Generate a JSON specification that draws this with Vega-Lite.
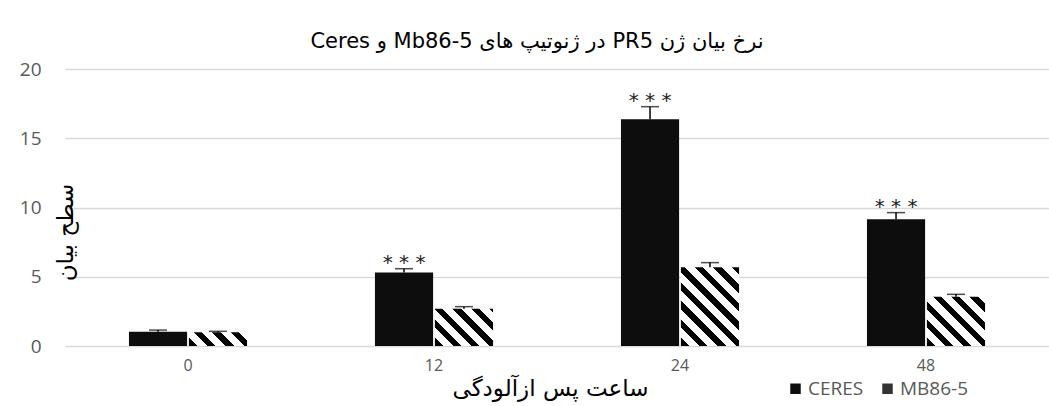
{
  "$schema": "https://vega.github.io/schema/vega-lite/v6.json",
  "width": 984,
  "height": 277,
  "autosize": "none",
  "padding": {"left": 65, "top": 69, "right": 0, "bottom": 60},
  "background": "white",
  "config": {"view": {"stroke": null}},
  "title": {
    "text": "\u202bنرخ بیان ژن PR5 در ژنوتیپ های Mb86-5 و Ceres\u202c",
    "font": "DejaVu Sans",
    "fontSize": 21,
    "fontWeight": "normal",
    "color": "black",
    "anchor": "middle",
    "offset": 8,
    "dx": -20
  },
  "data": {
    "values": [
      {"time": "0", "genotype": "CERES", "value": 1.03, "upper": 1.15, "sig": ""},
      {"time": "0", "genotype": "MB86-5", "value": 1.0, "upper": 1.06, "sig": ""},
      {"time": "12", "genotype": "CERES", "value": 5.3, "upper": 5.58, "sig": "* * *"},
      {"time": "12", "genotype": "MB86-5", "value": 2.69, "upper": 2.84, "sig": ""},
      {"time": "24", "genotype": "CERES", "value": 16.37, "upper": 17.28, "sig": "* * *"},
      {"time": "24", "genotype": "MB86-5", "value": 5.68, "upper": 6.02, "sig": ""},
      {"time": "48", "genotype": "CERES", "value": 9.15, "upper": 9.63, "sig": "* * *"},
      {"time": "48", "genotype": "MB86-5", "value": 3.56, "upper": 3.73, "sig": ""}
    ]
  },
  "encoding": {
    "x": {
      "field": "time",
      "type": "ordinal",
      "sort": ["0", "12", "24", "48"],
      "scale": {"paddingInner": 0.52, "paddingOuter": 0.26},
      "title": "ساعت پس ازآلودگی",
      "axis": {
        "labelAngle": 0,
        "labelPadding": 11,
        "labelFont": "Open Sans",
        "labelFontSize": 16,
        "labelColor": "#595959",
        "ticks": false,
        "domain": false,
        "grid": false,
        "titleFont": "DejaVu Sans",
        "titleFontSize": 23,
        "titleFontWeight": "normal",
        "titleColor": "black",
        "titleBaseline": "alphabetic",
        "titleY": 49,
        "titleX": 485
      }
    },
    "xOffset": {
      "field": "genotype",
      "type": "nominal",
      "sort": ["CERES", "MB86-5"],
      "scale": {"paddingInner": 0.03}
    }
  },
  "layer": [
    {
      "mark": {"type": "bar", "strokeWidth": 0},
      "encoding": {
        "y": {
          "field": "value",
          "type": "quantitative",
          "scale": {"domain": [0, 20]},
          "title": "سطح بیان",
          "axis": {
            "values": [0, 5, 10, 15, 20],
            "grid": true,
            "gridColor": "#d9d9d9",
            "gridWidth": 1.5,
            "domain": false,
            "ticks": false,
            "labelPadding": 24,
            "labelFont": "Open Sans",
            "labelFontSize": 19,
            "labelColor": "#595959",
            "titleFont": "DejaVu Sans",
            "titleFontSize": 23,
            "titleFontWeight": "normal",
            "titleColor": "black",
            "titleAngle": -90,
            "titleBaseline": "bottom",
            "titleX": 12,
            "titleY": 163
          }
        },
        "fill": {
          "field": "genotype",
          "type": "nominal",
          "scale": {"domain": ["CERES", "MB86-5"], "range": ["#0d0d0d", "#333333"]},
          "condition": [
            {
              "test": "datum.genotype === 'MB86-5' && datum.time === '0'",
              "value": {
                "gradient": "linear",
                "x1": 0, "y1": 1, "x2": 1.172, "y2": 0.7207,
                "stops": [
                  {"offset": 0, "color": "black"},
                  {"offset": 0.1154, "color": "black"},
                  {"offset": 0.1154, "color": "white"},
                  {"offset": 0.2564, "color": "white"},
                  {"offset": 0.2564, "color": "black"},
                  {"offset": 0.3718, "color": "black"},
                  {"offset": 0.3718, "color": "white"},
                  {"offset": 0.5128, "color": "white"},
                  {"offset": 0.5128, "color": "black"},
                  {"offset": 0.6282, "color": "black"},
                  {"offset": 0.6282, "color": "white"},
                  {"offset": 0.7692, "color": "white"},
                  {"offset": 0.7692, "color": "black"},
                  {"offset": 0.8846, "color": "black"},
                  {"offset": 0.8846, "color": "white"},
                  {"offset": 1, "color": "white"}
                ]
              }
            },
            {
              "test": "datum.genotype === 'MB86-5' && datum.time === '12'",
              "value": {
                "gradient": "linear",
                "x1": 0, "y1": 1, "x2": 1.1627, "y2": 0.2536,
                "stops": [
                  {"offset": 0, "color": "black"},
                  {"offset": 0.0865, "color": "black"},
                  {"offset": 0.0865, "color": "white"},
                  {"offset": 0.1923, "color": "white"},
                  {"offset": 0.1923, "color": "black"},
                  {"offset": 0.2788, "color": "black"},
                  {"offset": 0.2788, "color": "white"},
                  {"offset": 0.3846, "color": "white"},
                  {"offset": 0.3846, "color": "black"},
                  {"offset": 0.4711, "color": "black"},
                  {"offset": 0.4711, "color": "white"},
                  {"offset": 0.5769, "color": "white"},
                  {"offset": 0.5769, "color": "black"},
                  {"offset": 0.6634, "color": "black"},
                  {"offset": 0.6634, "color": "white"},
                  {"offset": 0.7692, "color": "white"},
                  {"offset": 0.7692, "color": "black"},
                  {"offset": 0.8557, "color": "black"},
                  {"offset": 0.8557, "color": "white"},
                  {"offset": 0.9615, "color": "white"},
                  {"offset": 0.9615, "color": "black"},
                  {"offset": 1, "color": "black"}
                ]
              }
            },
            {
              "test": "datum.genotype === 'MB86-5' && datum.time === '24'",
              "value": {
                "gradient": "linear",
                "x1": 0, "y1": 1, "x2": 0.8305, "y2": -0.125,
                "stops": [
                  {"offset": 0, "color": "black"},
                  {"offset": 0.0608, "color": "black"},
                  {"offset": 0.0608, "color": "white"},
                  {"offset": 0.1351, "color": "white"},
                  {"offset": 0.1351, "color": "black"},
                  {"offset": 0.1959, "color": "black"},
                  {"offset": 0.1959, "color": "white"},
                  {"offset": 0.2703, "color": "white"},
                  {"offset": 0.2703, "color": "black"},
                  {"offset": 0.3311, "color": "black"},
                  {"offset": 0.3311, "color": "white"},
                  {"offset": 0.4054, "color": "white"},
                  {"offset": 0.4054, "color": "black"},
                  {"offset": 0.4662, "color": "black"},
                  {"offset": 0.4662, "color": "white"},
                  {"offset": 0.5405, "color": "white"},
                  {"offset": 0.5405, "color": "black"},
                  {"offset": 0.6014, "color": "black"},
                  {"offset": 0.6014, "color": "white"},
                  {"offset": 0.6757, "color": "white"},
                  {"offset": 0.6757, "color": "black"},
                  {"offset": 0.7365, "color": "black"},
                  {"offset": 0.7365, "color": "white"},
                  {"offset": 0.8108, "color": "white"},
                  {"offset": 0.8108, "color": "black"},
                  {"offset": 0.8716, "color": "black"},
                  {"offset": 0.8716, "color": "white"},
                  {"offset": 0.9459, "color": "white"},
                  {"offset": 0.9459, "color": "black"},
                  {"offset": 1, "color": "black"}
                ]
              }
            },
            {
              "test": "datum.genotype === 'MB86-5' && datum.time === '48'",
              "value": {
                "gradient": "linear",
                "x1": 0, "y1": 1, "x2": 1.0747, "y2": 0.088,
                "stops": [
                  {"offset": 0, "color": "black"},
                  {"offset": 0.0771, "color": "black"},
                  {"offset": 0.0771, "color": "white"},
                  {"offset": 0.1712, "color": "white"},
                  {"offset": 0.1712, "color": "black"},
                  {"offset": 0.2483, "color": "black"},
                  {"offset": 0.2483, "color": "white"},
                  {"offset": 0.3425, "color": "white"},
                  {"offset": 0.3425, "color": "black"},
                  {"offset": 0.4195, "color": "black"},
                  {"offset": 0.4195, "color": "white"},
                  {"offset": 0.5137, "color": "white"},
                  {"offset": 0.5137, "color": "black"},
                  {"offset": 0.5907, "color": "black"},
                  {"offset": 0.5907, "color": "white"},
                  {"offset": 0.6849, "color": "white"},
                  {"offset": 0.6849, "color": "black"},
                  {"offset": 0.762, "color": "black"},
                  {"offset": 0.762, "color": "white"},
                  {"offset": 0.8562, "color": "white"},
                  {"offset": 0.8562, "color": "black"},
                  {"offset": 0.9332, "color": "black"},
                  {"offset": 0.9332, "color": "white"},
                  {"offset": 1, "color": "white"}
                ]
              }
            }
          ],
          "legend": {
            "orient": "none",
            "legendX": 721,
            "legendY": 310,
            "direction": "horizontal",
            "title": null,
            "symbolType": "square",
            "symbolSize": 110,
            "symbolStrokeWidth": 0,
            "labelFont": "Open Sans",
            "labelFontSize": 19,
            "labelColor": "#595959",
            "labelOffset": 3,
            "columnPadding": 14,
            "encode": {
              "symbols": {
                "update": {
                  "fill": {
                    "signal": "datum.value === 'MB86-5' ? {gradient: 'linear', x1: 0, y1: 1, x2: 1, y2: 0, stops: [{offset: 0, color: 'white'}, {offset: 0.2, color: 'white'}, {offset: 0.2, color: 'black'}, {offset: 0.4, color: 'black'}, {offset: 0.4, color: 'white'}, {offset: 0.6, color: 'white'}, {offset: 0.6, color: 'black'}, {offset: 0.8, color: 'black'}, {offset: 0.8, color: 'white'}, {offset: 1, color: 'white'}]} : '#0d0d0d'"
                  }
                }
              }
            }
          }
        }
      }
    },
    {
      "mark": {"type": "rule", "color": "black", "strokeWidth": 1.5},
      "encoding": {
        "y": {"field": "value", "type": "quantitative"},
        "y2": {"field": "upper"}
      }
    },
    {
      "mark": {"type": "tick", "color": "black", "size": 18, "thickness": 1.5},
      "encoding": {
        "y": {"field": "upper", "type": "quantitative"}
      }
    },
    {
      "mark": {"type": "text", "font": "DejaVu Sans", "fontSize": 20, "color": "#222222", "baseline": "alphabetic", "dy": 0},
      "encoding": {
        "y": {"field": "upper", "type": "quantitative"},
        "text": {"field": "sig"}
      }
    }
  ]
}
